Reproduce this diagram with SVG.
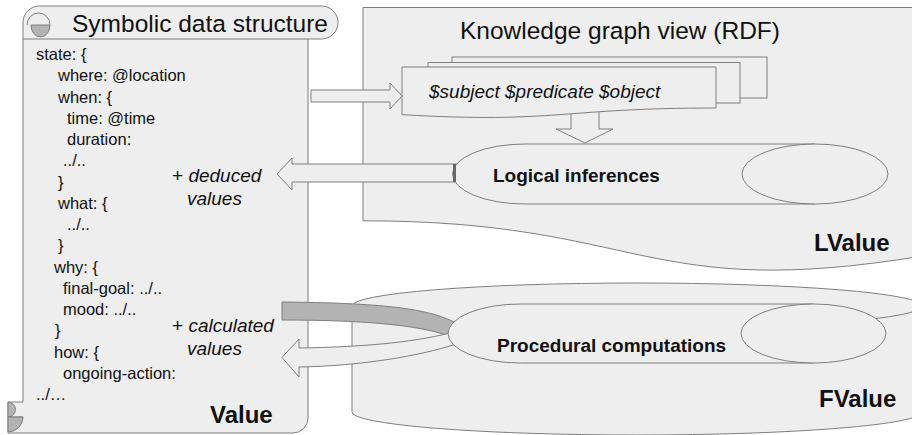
<svg xmlns="http://www.w3.org/2000/svg" width="912" height="435" viewBox="0 0 912 435">
<style>
.s{fill:#eeeeee;stroke:#7f7f7f;stroke-width:1}
.d{fill:#b3b3b3;stroke:#7f7f7f;stroke-width:1}
.n{fill:none;stroke:#7f7f7f;stroke-width:1}
text{font-family:"Liberation Sans",Arial,sans-serif;fill:#111}
.code{font-size:16.5px}
.it{font-style:italic;font-size:19px}
.big{font-size:24.5px}
.b19{font-weight:bold;font-size:19px}
.b24{font-weight:bold;font-size:24px}
</style>
<rect width="912" height="435" fill="#fff"/>

<g id="knowledge-graph">
  <path class="s" d="M363,7.5 H923 V255.9 C643,302.1 643,220.8 363,220.8 Z"/>
  <text class="big" x="460" y="39">Knowledge graph view (RDF)</text>
  <text class="b24" x="814" y="251">LValue</text>
</g>

<g id="fvalue-cylinder">
  <path class="s" d="M352,306 V412 A285,23 0 0 0 922,412 V306 Z"/>
  <ellipse class="s" cx="637" cy="306" rx="285" ry="23"/>
  <text class="b24" x="819" y="407">FValue</text>
</g>

<g id="scroll">
  <path class="s" d="M23,22.5 A16.5,16.5 0 0 1 39.5,6 H321.5 A16.5,16.5 0 0 1 321.5,39 H308 V418 A15,15 0 0 1 293,433 H8 V402 H23 Z"/>
  <path class="n" d="M23,39 H308"/>
  <path class="d" d="M31,25 A9.5,12 0 0 0 50,25 Z"/>
  <path class="n" d="M50,25 A11.5,12 0 0 0 27,25"/>
  <path class="d" d="M8,402 A7.5,7.5 0 0 1 8,417 Z"/>
  <path class="n" d="M8,417 H23"/>
  <path class="d" d="M8,417 H23 A15,15 0 0 1 8,432 Z"/>
  <text class="big" x="72" y="32">Symbolic data structure</text>
  <g class="code">
    <text x="36" y="60">state: {</text>
    <text x="58" y="81.25">where: @location</text>
    <text x="58" y="102.5">when: {</text>
    <text x="67" y="123.75">time: @time</text>
    <text x="67" y="145">duration:</text>
    <text x="63" y="166.25">../..</text>
    <text x="58" y="187.5">}</text>
    <text x="58" y="208.75">what: {</text>
    <text x="67" y="230">../..</text>
    <text x="58" y="251.25">}</text>
    <text x="54" y="272.5">why: {</text>
    <text x="63" y="293.75">final-goal: ../..</text>
    <text x="63" y="315">mood: ../..</text>
    <text x="55" y="336.25">}</text>
    <text x="54" y="357.5">how: {</text>
    <text x="63" y="378.75">ongoing-action:</text>
    <text x="36" y="400">../…</text>
  </g>
  <text class="b24" x="210" y="423">Value</text>
</g>

<g id="connectors">
  <path class="s" d="M311,90 H390 V83 L402,96 L390,109 V102 H311 Z"/>
  <path class="s" d="M571,108 V129 H556 L585,143 L613,129 H599 V108 Z"/>
  <path class="s" d="M460,164 H292 V158 L277,174 L292,190 V182 H460 Z"/>
  <path class="d" d="M282,302 C380,303 428,308 456,323 L451,337 C425,326 370,320 282,320 Z"/>
  <path class="s" d="M456,344 C420,356 360,366 299,367 V377 L282,357.5 L299,339 V348 C360,347 410,343 450,333 Z"/>
</g>

<g id="triples">
  <rect class="s" x="452" y="57" width="315" height="41"/>
  <rect class="s" x="428" y="62.5" width="312" height="40.5"/>
  <path class="s" d="M402,67 H716 V108 C559,108 559,123.6 402,114.7 Z"/>
  <text class="it" x="429" y="98.3">$subject $predicate $object</text>
</g>

<g id="logical-inferences">
  <path class="s" d="M525,144 H815 V204 H525 A72.5,30 0 0 1 525,144 Z"/>
  <ellipse class="s" cx="815" cy="174" rx="73" ry="30"/>
  <rect x="453" y="164" width="3" height="18" fill="#666"/>
  <text class="b19" x="493" y="182">Logical inferences</text>
</g>

<g id="procedural-computations">
  <path class="s" d="M520.5,304 H813.5 V363 H520.5 A72.5,29.5 0 0 1 520.5,304 Z"/>
  <ellipse class="s" cx="813.5" cy="333.5" rx="72.5" ry="29.5"/>
  <text class="b19" x="497" y="352">Procedural computations</text>
</g>

<g id="labels">
  <text x="172" y="182" style="font-size:19px">+ <tspan class="it">deduced</tspan></text>
  <text class="it" x="187" y="205">values</text>
  <text x="172" y="331.5" style="font-size:19px">+ <tspan class="it">calculated</tspan></text>
  <text class="it" x="187" y="355">values</text>
</g>
</svg>
